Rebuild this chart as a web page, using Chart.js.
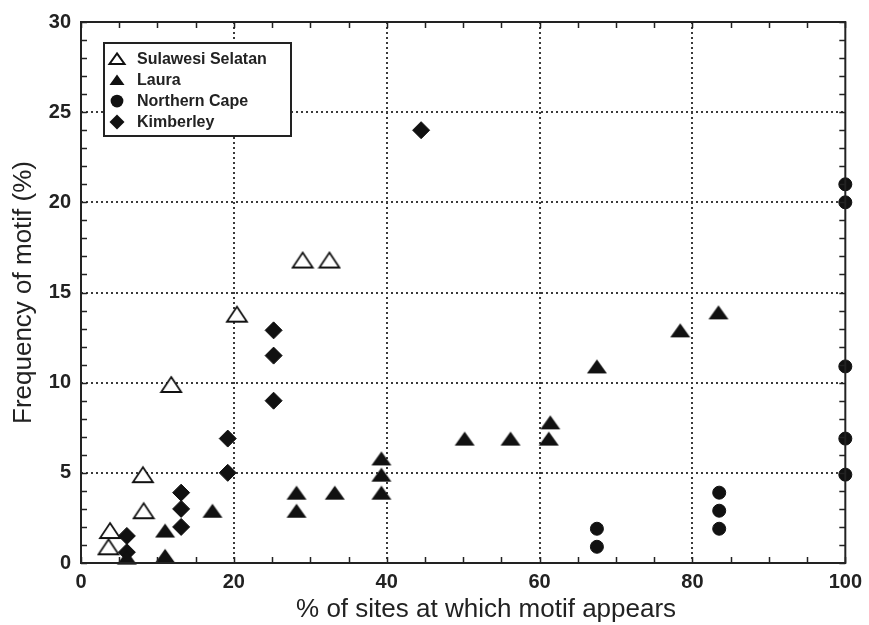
<!DOCTYPE html>
<html>
<head>
<meta charset="utf-8">
<script src="https://cdn.jsdelivr.net/npm/chart.js@4.4.0/dist/chart.umd.min.js"></script>
<style>
  html, body { margin: 0; padding: 0; background: #fff; }
  #wrap { width: 869px; height: 625px; }
</style>
</head>
<body>
<div id="wrap"><canvas id="motifChart" width="869" height="625"></canvas></div>
<script>
// Values
var seriesNames = ['Sulawesi Selatan', 'Laura', 'Northern Cape', 'Kimberley'];

var sulawesiX = [3.8, 3.6, 8.1, 8.2, 11.8, 20.4, 29, 32.5];
var sulawesiY = [1.8, 0.9, 4.9, 2.9, 9.9, 13.8, 16.8, 16.8];

var lauraX = [6, 11, 11, 17.2, 28.2, 28.2, 33.2, 39.3, 39.3, 39.3, 50.2, 56.2, 61.4, 61.2, 67.5, 78.4, 83.4];
var lauraY = [0.3, 1.8, 0.4, 2.9, 3.9, 2.9, 3.9, 5.8, 4.9, 3.9, 6.9, 6.9, 7.8, 6.9, 10.9, 12.9, 13.9];

var capeX = [67.5, 67.5, 83.5, 83.5, 83.5, 100, 100, 100, 100, 100];
var capeY = [1.9, 0.9, 3.9, 2.9, 1.9, 21, 20, 10.9, 6.9, 4.9];

var kimberleyX = [6, 6, 13.1, 13.1, 13.1, 19.2, 19.2, 25.2, 25.2, 25.2, 44.5];
var kimberleyY = [1.5, 0.6, 3.9, 3, 2, 6.9, 5, 12.9, 11.5, 9, 24];

var xTicks = [0, 20, 40, 60, 80, 100];
var yTicks = [0, 5, 10, 15, 20, 25, 30];

var xTitle = '% of sites at which motif appears';
var yTitle = 'Frequency of motif (%)';

function toPoints(xs, ys) {
    var pts = [];
    for (var i = 0; i < xs.length; i++) pts.push({ x: xs[i], y: ys[i] });
    return pts;
}

var ink = '#111';
var fontFamily = '"Liberation Sans", Arial, sans-serif';

// Slightly flattened triangles, as in the original plot
function makeTriangle(w, h, open) {
    var c = document.createElement('canvas');
    c.width = w + 4; c.height = h + 4;
    var g = c.getContext('2d');
    g.beginPath();
    g.moveTo(c.width / 2, 2);
    g.lineTo(c.width - 2, h + 2);
    g.lineTo(2, h + 2);
    g.closePath();
    if (open) {
        g.fillStyle = '#fff';
        g.fill();
        g.lineWidth = 1.8;
        g.strokeStyle = ink;
        g.stroke();
    } else {
        g.fillStyle = ink;
        g.fill();
    }
    return c;
}
var openTriangle = makeTriangle(20, 15, true);
var solidTriangle = makeTriangle(20, 14, false);

// Frame, inward ticks, x title and the boxed legend
var framePlugin = {
    id: 'frame',
    afterDraw: function (chart) {
        var ctx = chart.ctx, a = chart.chartArea;
        var xs = chart.scales.x, ys = chart.scales.y;
        ctx.save();
        ctx.strokeStyle = '#222';
        ctx.lineWidth = 1.5;
        // inward tick marks
        ctx.beginPath();
        for (var v = 0; v <= 30; v++) {
            var py = Math.round(ys.getPixelForValue(v)) + 0.5;
            ctx.moveTo(a.left, py); ctx.lineTo(a.left + 6, py);
            ctx.moveTo(a.right, py); ctx.lineTo(a.right - 6, py);
        }
        for (var u = 0; u <= 100; u += 5) {
            var px = Math.round(xs.getPixelForValue(u)) + 0.5;
            ctx.moveTo(px, a.bottom); ctx.lineTo(px, a.bottom - 6);
            ctx.moveTo(px, a.top); ctx.lineTo(px, a.top + 6);
        }
        ctx.stroke();
        // frame
        ctx.lineWidth = 2;
        ctx.strokeRect(a.left, a.top, a.right - a.left, a.bottom - a.top);

        // x axis title, set a little right of centre like the original
        ctx.fillStyle = '#222';
        ctx.font = '26px ' + fontFamily;
        ctx.textAlign = 'center';
        ctx.textBaseline = 'middle';
        ctx.fillText(xTitle, xs.getPixelForValue(53), 610);

        // legend box
        var bx = a.left + 23, by = a.top + 21, bw = 187, bh = 93;
        ctx.fillStyle = '#fff';
        ctx.fillRect(bx, by, bw, bh);
        ctx.lineWidth = 2;
        ctx.strokeStyle = '#222';
        ctx.strokeRect(bx, by, bw, bh);
        ctx.font = 'bold 16px ' + fontFamily;
        ctx.textBaseline = 'middle';
        ctx.textAlign = 'left';
        var styles = ['triangleOpen', 'triangle', 'circle', 'diamond'];
        for (var i = 0; i < seriesNames.length; i++) {
            var cy = by + 16 + i * 21;
            var cx = bx + 13;
            drawMarker(ctx, styles[i], cx, cy, 7.5);
            ctx.fillStyle = '#222';
            ctx.fillText(seriesNames[i], bx + 33, cy + 1);
        }
        ctx.restore();
    }
};

function drawMarker(ctx, style, x, y, r) {
    ctx.save();
    ctx.beginPath();
    if (style === 'circle') {
        ctx.arc(x, y, r * 0.85, 0, Math.PI * 2);
    } else if (style === 'diamond') {
        ctx.moveTo(x, y - r); ctx.lineTo(x + r, y); ctx.lineTo(x, y + r); ctx.lineTo(x - r, y);
    } else {
        ctx.moveTo(x, y - r * 0.75); ctx.lineTo(x + r, y + r * 0.65); ctx.lineTo(x - r, y + r * 0.65);
    }
    ctx.closePath();
    if (style === 'triangleOpen') {
        ctx.fillStyle = '#fff';
        ctx.fill();
        ctx.lineWidth = 2;
        ctx.strokeStyle = ink;
        ctx.stroke();
    } else {
        ctx.fillStyle = ink;
        ctx.fill();
    }
    ctx.restore();
}

var ctx = document.getElementById('motifChart').getContext('2d');

new Chart(ctx, {
    type: 'scatter',
    data: {
        datasets: [
            {
                label: seriesNames[0],
                data: toPoints(sulawesiX, sulawesiY),
                pointStyle: openTriangle,
                clip: false
            },
            {
                label: seriesNames[1],
                data: toPoints(lauraX, lauraY),
                pointStyle: solidTriangle,
                clip: false
            },
            {
                label: seriesNames[2],
                data: toPoints(capeX, capeY),
                pointStyle: 'circle',
                pointRadius: 6.5,
                backgroundColor: ink,
                borderColor: ink,
                borderWidth: 1,
                clip: false
            },
            {
                label: seriesNames[3],
                data: toPoints(kimberleyX, kimberleyY),
                pointStyle: 'rectRot',
                pointRadius: 8.5,
                backgroundColor: ink,
                borderColor: ink,
                borderWidth: 1,
                clip: false
            }
        ]
    },
    options: {
        responsive: false,
        animation: false,
        layout: { padding: { top: 20, right: 19, left: 0, bottom: 0 } },
        plugins: {
            legend: { display: false },
            tooltip: { enabled: false }
        },
        scales: {
            x: {
                type: 'linear',
                min: 0,
                max: 100,
                afterBuildTicks: function (scale) {
                    scale.ticks = xTicks.map(function (v) { return { value: v }; });
                },
                afterFit: function (scale) { scale.height = 62; },
                ticks: {
                    color: '#222',
                    padding: 7,
                    maxRotation: 0,
                    font: { family: fontFamily, size: 20, weight: 'bold' }
                },
                grid: {
                    drawTicks: false,
                    lineWidth: 2,
                    color: function (c) {
                        var v = c.tick ? c.tick.value : 0;
                        return (v === 0 || v === 100) ? 'rgba(0,0,0,0)' : '#3a3a3a';
                    }
                },
                border: { display: false, dash: [2, 3] },
                title: { display: false }
            },
            y: {
                type: 'linear',
                min: 0,
                max: 30,
                afterBuildTicks: function (scale) {
                    scale.ticks = yTicks.map(function (v) { return { value: v }; });
                },
                afterFit: function (scale) { scale.width = 81; },
                ticks: {
                    color: '#222',
                    padding: 10,
                    font: { family: fontFamily, size: 20, weight: 'bold' }
                },
                grid: {
                    drawTicks: false,
                    lineWidth: 2,
                    color: function (c) {
                        var v = c.tick ? c.tick.value : 0;
                        return (v === 0 || v === 30) ? 'rgba(0,0,0,0)' : '#3a3a3a';
                    }
                },
                border: { display: false, dash: [2, 3] },
                title: {
                    display: true,
                    text: yTitle,
                    color: '#222',
                    padding: { top: 8, bottom: 0 },
                    font: { family: fontFamily, size: 26 }
                }
            }
        }
    },
    plugins: [framePlugin]
});
</script>
</body>
</html>
